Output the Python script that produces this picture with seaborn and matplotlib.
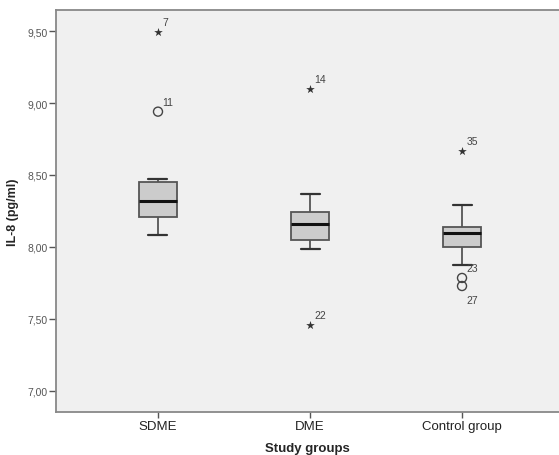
import numpy as np
import pandas as pd
import matplotlib
matplotlib.use('Agg')
import matplotlib.pyplot as plt
import seaborn as sns
from matplotlib.ticker import FuncFormatter

# Dados (IL-8, pg/ml)
groups = ['SDME', 'DME', 'Control group']
whisker_lo = [8.085, 7.986, 7.873]
q1 = [8.208, 8.051, 7.998]
median = [8.322, 8.157, 8.095]
q3 = [8.453, 8.245, 8.139]
whisker_hi = [8.472, 8.368, 8.292]

# outliers (circulo) e extremos (estrela)
out_group = ['SDME', 'Control group', 'Control group']
out_value = [8.94, 7.785, 7.729]
out_label = ['11', '23', '27']
ext_group = ['SDME', 'DME', 'DME', 'Control group']
ext_value = [9.495, 9.097, 7.458, 8.669]
ext_label = ['7', '14', '22', '35']

yticks = [7.0, 7.5, 8.0, 8.5, 9.0, 9.5]

# cinco numeros por grupo -> quartis exatos no boxplot
rows = []
for i, g in enumerate(groups):
    for v in [whisker_lo[i], q1[i], median[i], q3[i], whisker_hi[i]]:
        rows.append({'group': g, 'value': v})
df_box = pd.DataFrame(rows)
df_out = pd.DataFrame({'group': out_group, 'value': out_value, 'label': out_label})
df_ext = pd.DataFrame({'group': ext_group, 'value': ext_value, 'label': ext_label})

sns.set_style('white')
plt.rcParams['font.family'] = ['Liberation Sans', 'DejaVu Sans']

fig = plt.figure(figsize=(5.59, 4.56), dpi=100)
ax = fig.add_axes([56 / 559, 1 - 412.7 / 456, 1 - 56 / 559, (412.7 - 11) / 456])
ax.set_facecolor('#f0f0f0')

edge = '#555555'
sns.boxplot(data=df_box, x='group', y='value', order=groups, whis=(0, 100),
            width=0.25, showfliers=False, color='#cccccc', linewidth=1.3,
            boxprops={'facecolor': '#cccccc', 'edgecolor': edge},
            whiskerprops={'color': edge}, capprops={'color': '#333333', 'linewidth': 1.6},
            medianprops={'color': '#111111', 'linewidth': 2.2}, ax=ax)

n_before = len(ax.collections)
sns.stripplot(data=df_out, x='group', y='value', order=groups, jitter=False,
              marker='o', size=6.5, color='#444444', linewidth=1, edgecolor='#444444', ax=ax)
for c in ax.collections[n_before:]:
    c.set_facecolor('none')
sns.stripplot(data=df_ext, x='group', y='value', order=groups, jitter=False,
              marker='*', size=6.5, color='#333333', linewidth=0, ax=ax)

# rotulos dos casos
offsets = {'7': (3, 5), '11': (3, 5), '14': (3, 5), '22': (3, 5), '35': (3, 5),
           '23': (3, 5), '27': (3, -12)}
for df_lab in [df_out, df_ext]:
    for _, r in df_lab.iterrows():
        ax.annotate(r['label'], (groups.index(r['group']), r['value']),
                    xytext=offsets[r['label']], textcoords='offset points',
                    fontsize=7.5, color='#444444')

ax.set_xlim(-0.671, 2.638)
ax.set_ylim(6.856, 9.646)
ax.set_yticks(yticks)
ax.yaxis.set_major_formatter(FuncFormatter(lambda v, p: f'{v:.2f}'.replace('.', ',')))
ax.tick_params(axis='y', left=True, length=5, width=1, color='#555555',
               labelsize=7.5, labelcolor='#555555', pad=1)
ax.tick_params(axis='x', bottom=True, length=4, width=1, color='#555555',
               labelsize=9.5, labelcolor='#222222', pad=2)

for s in ['left', 'top', 'bottom']:
    ax.spines[s].set_color('#888888')
    ax.spines[s].set_linewidth(1.3)
ax.spines['right'].set_visible(False)

ax.set_xlabel('Study groups', fontsize=9.5, fontweight='bold', labelpad=7)
ax.set_ylabel('IL-8 (pg/ml)', fontsize=9, fontweight='bold', labelpad=6)

fig.savefig('out.png', dpi=100, facecolor='white')
